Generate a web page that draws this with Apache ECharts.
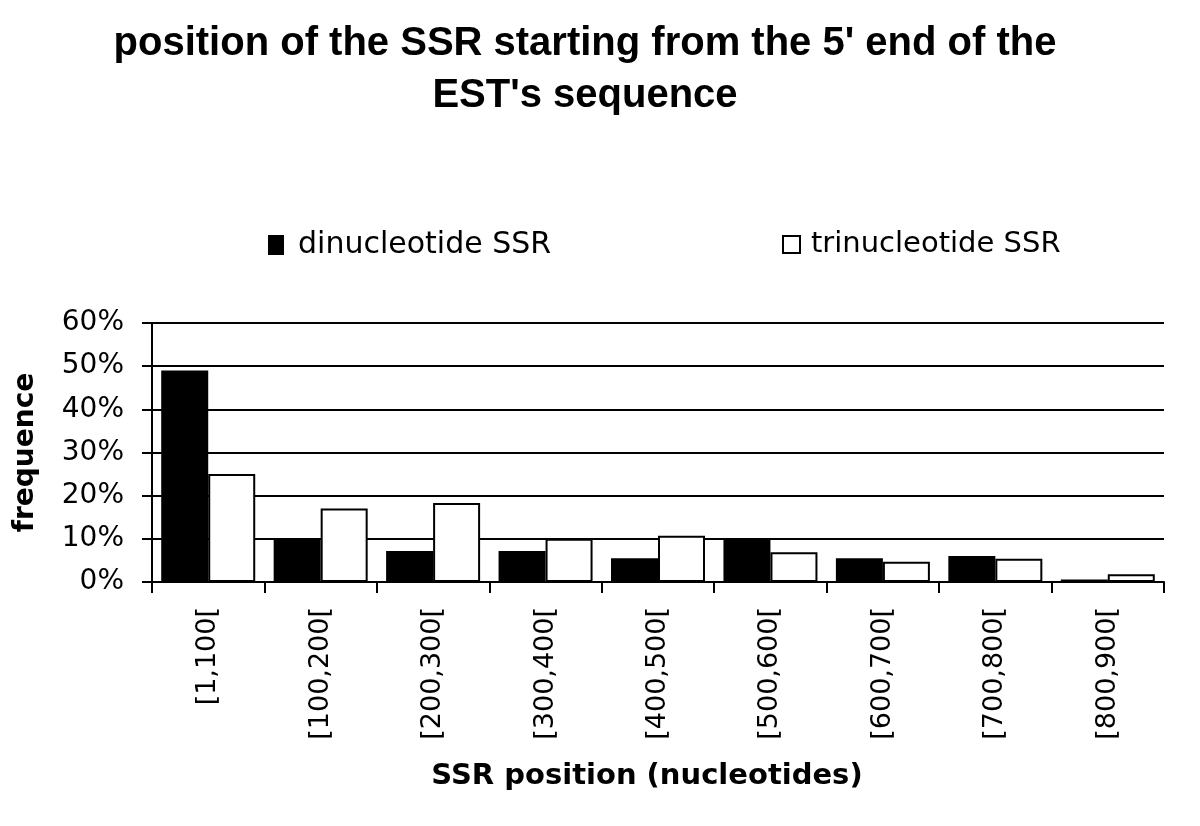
<!DOCTYPE html>
<html>
<head>
<meta charset="utf-8">
<script src="https://cdn.jsdelivr.net/npm/echarts@6/dist/echarts.min.js"></script>
<style>html,body{margin:0;padding:0;background:#fff}#chart{width:1200px;height:826px}</style>
</head>
<body>
<div id="chart"></div>
<script>
const titleText = "position of the SSR starting from the 5' end of the\nEST's sequence";
const categories = ['[1,100[', '[100,200[', '[200,300[', '[300,400[', '[400,500[', '[500,600[', '[600,700[', '[700,800[', '[800,900['];
const seriesNames = ['dinucleotide SSR', 'trinucleotide SSR'];
const dinucleotide = [49, 10, 7.2, 7.2, 5.5, 10, 5.5, 6.0, 0.6];
const trinucleotide = [25, 17, 18.3, 10, 10.7, 6.9, 4.7, 5.4, 1.8];
const yTicks = { min: 0, max: 60, interval: 10 };
const xTitle = 'SSR position (nucleotides)';
const yTitle = 'frequence';

const chart = echarts.init(document.getElementById('chart'), null, { renderer: 'canvas' });
const regular = 'DejaVu Sans';
chart.setOption({
  animation: false,
  backgroundColor: '#ffffff',
  graphic: [
    {
      type: 'text',
      x: 585,
      y: 18,
      style: {
        text: titleText,
        align: 'center',
        verticalAlign: 'top',
        font: 'bold 40px "Liberation Sans"',
        lineHeight: 52,
        fill: '#000'
      }
    }
  ],
  legend: [
    {
      data: [seriesNames[0]], left: 268, top: 230, padding: 0, itemWidth: 14, itemHeight: 18, icon: 'rect',
      textStyle: { fontFamily: regular, fontSize: 30, color: '#000', padding: [0, 0, 0, 10] }
    },
    {
      data: [seriesNames[1]], left: 782, top: 230, padding: 0, itemWidth: 17, itemHeight: 17, icon: 'rect',
      textStyle: { fontFamily: regular, fontSize: 29, color: '#000', padding: [0, 0, 0, 6] }
    }
  ],
  grid: { left: 152, right: 36, top: 323, bottom: 244, containLabel: false },
  xAxis: {
    type: 'category',
    data: categories,
    name: xTitle,
    nameLocation: 'middle',
    nameGap: 180,
    nameTextStyle: { fontFamily: regular, fontWeight: 'bold', fontSize: 29, color: '#000', padding: [0, 22, 0, 0] },
    axisLine: { lineStyle: { color: '#000', width: 2 } },
    axisTick: { show: true, length: 11, lineStyle: { color: '#000', width: 2 } },
    axisLabel: { rotate: 90, margin: 25, fontFamily: regular, fontSize: 27, color: '#000' },
    splitLine: { show: false }
  },
  yAxis: {
    type: 'value',
    min: yTicks.min, max: yTicks.max, interval: yTicks.interval,
    name: yTitle,
    nameLocation: 'middle',
    nameRotate: 90,
    nameGap: 112,
    nameTextStyle: { fontFamily: regular, fontWeight: 'bold', fontSize: 28, color: '#000' },
    axisLine: { show: true, lineStyle: { color: '#000', width: 2 } },
    axisTick: { show: true, length: 10, lineStyle: { color: '#000', width: 2 } },
    axisLabel: { formatter: '{value}%', margin: 28, fontFamily: regular, fontSize: 28, color: '#000' },
    splitLine: { show: true, lineStyle: { color: '#000', width: 2 } }
  },
  series: [
    {
      name: seriesNames[0], type: 'bar', data: dinucleotide, barWidth: 47, barGap: '0%',
      itemStyle: { color: '#000', borderColor: '#000', borderWidth: 2 }
    },
    {
      name: seriesNames[1], type: 'bar', data: trinucleotide, barWidth: 47, barGap: '0%',
      itemStyle: { color: '#fff', borderColor: '#000', borderWidth: 2 }
    }
  ]
});
</script>
</body>
</html>
